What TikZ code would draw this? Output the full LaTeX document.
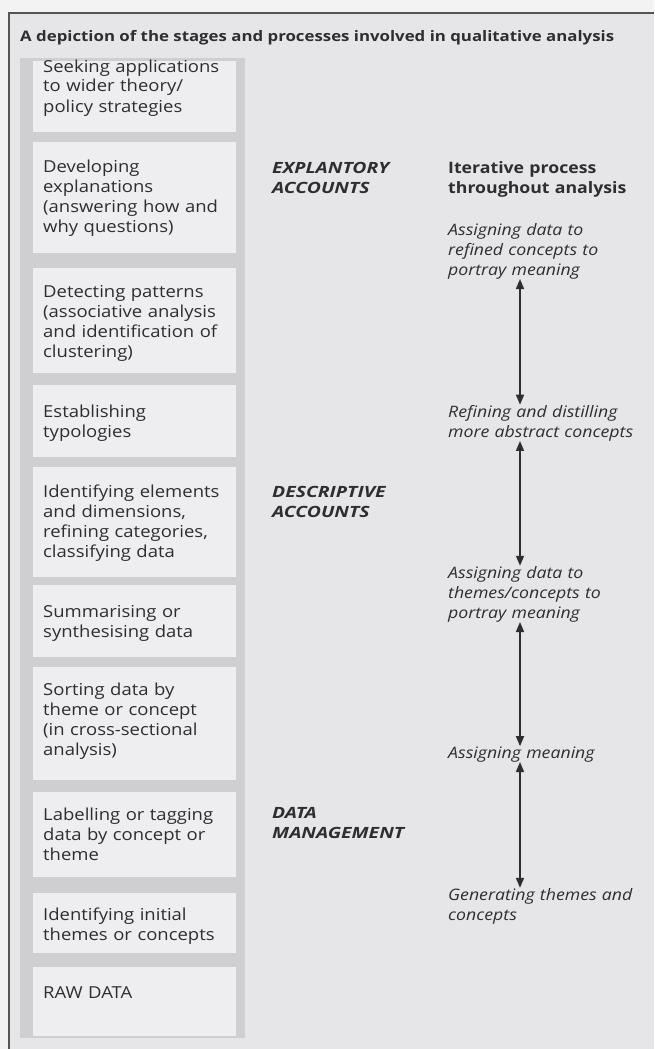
\documentclass[tikz,border=0pt]{standalone}
\usepackage{fontspec}
\setmainfont{Open Sans}[FakeStretch=1.12]
\newfontfamily\headfont{Open Sans}[FakeStretch=1.25]
\newfontfamily\titlefont{Open Sans}[FakeStretch=1.16]
\usetikzlibrary{arrows.meta}
\definecolor{ink}{HTML}{2E2E30}
\definecolor{panel}{HTML}{E6E6E9}
\definecolor{paper}{HTML}{F3F3F4}
\definecolor{band}{HTML}{CFCFD1}
\definecolor{cell}{HTML}{EEEEF0}
\definecolor{framec}{HTML}{555557}
\tikzset{
  stagetext/.style={anchor=base west, inner sep=0pt, text width=200pt, align=left,
    font=\fontsize{16.5}{20}\selectfont, text=ink},
  headtext/.style={anchor=base west, inner sep=0pt, text width=180pt, align=left,
    font=\headfont\fontsize{15.5}{20}\selectfont\bfseries\itshape, text=ink},
  itertext/.style={anchor=base west, inner sep=0pt, text width=210pt, align=left,
    font=\fontsize{15.8}{20}\selectfont\itshape, text=ink},
  iterhead/.style={anchor=base west, inner sep=0pt, text width=210pt, align=left,
    font=\fontsize{15.8}{20}\selectfont\bfseries, text=ink},
  link/.style={draw=ink, line width=1.6pt, {Triangle[width=8pt,length=10pt]}-{Triangle[width=8pt,length=10pt]}},
  framerule/.style={draw=framec, line width=1.8pt},
}
\begin{document}
\begin{tikzpicture}[x=1pt,y=-1pt]
\useasboundingbox (0,0) rectangle (654,1049);
\fill[paper] (0,0) rectangle (654,1049);
\fill[panel] (9,13) rectangle (654,1049);
\draw[framerule] (9,1049) -- (9,13) -- (654,13);
% left column
\fill[band] (20,58) rectangle (245,1038);
\foreach \t/\b in {61/132, 142/253, 268/373, 385/457, 467/577, 585/657, 667/780, 792/877, 893/953, 967/1036}
  \fill[cell] (33,\t) rectangle (236,\b);
% title
\node[anchor=base west, inner sep=0pt, font=\titlefont\fontsize{14.5}{18}\selectfont\bfseries, text=ink] (title) at (20,42)
  {A depiction of the stages and processes involved in qualitative analysis};
% stages
\node[stagetext] (s1) at (43,72) {Seeking applications\\to wider theory/\\policy strategies};
\node[stagetext] (s2) at (43,172) {Developing\\explanations\\(answering how and\\why questions)};
\node[stagetext] (s3) at (43,297) {Detecting patterns\\(associative analysis\\and identification of\\clustering)};
\node[stagetext] (s4) at (43,417) {Establishing\\typologies};
\node[stagetext] (s5) at (43,497) {Identifying elements\\and dimensions,\\refining categories,\\classifying data};
\node[stagetext] (s6) at (43,617) {Summarising or\\synthesising data};
\node[stagetext] (s7) at (43,695) {Sorting data by\\theme or concept\\(in cross-sectional\\analysis)};
\node[stagetext] (s8) at (43,820) {Labelling or tagging\\data by concept or\\theme};
\node[stagetext] (s9) at (43,920) {Identifying initial\\themes or concepts};
\node[stagetext] (s10) at (43,998) {RAW DATA};
% account headings
\node[headtext] (h1) at (272,173) {EXPLANTORY\\ACCOUNTS};
\node[headtext] (h2) at (272,497) {DESCRIPTIVE\\ACCOUNTS};
\node[headtext] (h3) at (272,818) {DATA\\MANAGEMENT};
% iterative process
\node[iterhead] (ih) at (448,173) {Iterative process\\throughout analysis};
\node[itertext] (r1) at (448,235) {Assigning data to\\refined concepts to\\portray meaning};
\node[itertext] (r2) at (448,417) {Refining and distilling\\more abstract concepts};
\node[itertext] (r3) at (448,578) {Assigning data to\\themes/concepts to\\portray meaning};
\node[itertext] (r4) at (448,758) {Assigning meaning};
\node[itertext] (r5) at (448,900) {Generating themes and\\concepts};
\coordinate (ax) at (520,0);
\draw[link] (r1.south -| ax) -- (r2.north -| ax);
\draw[link] (r2.south -| ax) -- (r3.north -| ax);
\draw[link] (r3.south -| ax) -- (r4.north -| ax);
\draw[link] (r4.south -| ax) -- (r5.north -| ax);
\end{tikzpicture}
\end{document}
